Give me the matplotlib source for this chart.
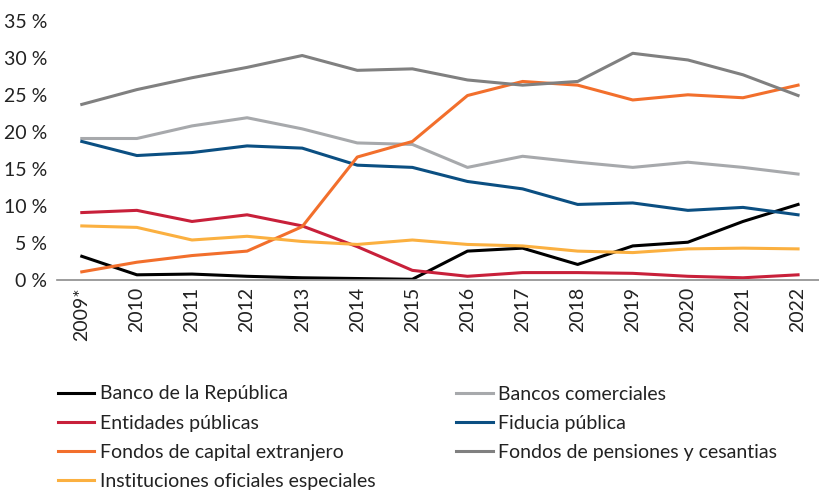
import matplotlib
matplotlib.use("Agg")
import matplotlib.pyplot as plt
from matplotlib.ticker import FuncFormatter

plt.rcParams['font.family'] = ['Lato', 'DejaVu Sans']

years = ["2009*", "2010", "2011", "2012", "2013", "2014", "2015",
         "2016", "2017", "2018", "2019", "2020", "2021", "2022"]

banco_republica = [3.2, 0.7, 0.8, 0.5, 0.3, 0.2, 0.1, 3.9, 4.3, 2.1, 4.6, 5.1, 7.9, 10.2]
bancos_comerciales = [19.1, 19.1, 20.8, 21.9, 20.4, 18.5, 18.3, 15.2, 16.7, 15.9, 15.2, 15.9, 15.2, 14.3]
entidades_publicas = [9.1, 9.4, 7.9, 8.8, 7.3, 4.5, 1.3, 0.5, 1.0, 1.0, 0.9, 0.5, 0.3, 0.7]
fiducia_publica = [18.7, 16.8, 17.2, 18.1, 17.8, 15.5, 15.2, 13.3, 12.3, 10.2, 10.4, 9.4, 9.8, 8.8]
capital_extranjero = [1.1, 2.4, 3.3, 3.9, 7.2, 16.6, 18.7, 24.9, 26.8, 26.3, 24.3, 25.0, 24.6, 26.3]
pensiones_cesantias = [23.7, 25.7, 27.3, 28.7, 30.3, 28.3, 28.5, 27.0, 26.3, 26.8, 30.6, 29.7, 27.7, 24.9]
instituciones_oficiales = [7.3, 7.1, 5.4, 5.9, 5.2, 4.8, 5.4, 4.8, 4.6, 3.9, 3.7, 4.2, 4.3, 4.2]

series = [
    ("Banco de la República", banco_republica, "#000000"),
    ("Bancos comerciales", bancos_comerciales, "#a7a9ac"),
    ("Entidades públicas", entidades_publicas, "#c8203a"),
    ("Fiducia pública", fiducia_publica, "#0b4f82"),
    ("Fondos de capital extranjero", capital_extranjero, "#f26f2c"),
    ("Fondos de pensiones y cesantias", pensiones_cesantias, "#808080"),
    ("Instituciones oficiales especiales", instituciones_oficiales, "#fbb040"),
]

fig = plt.figure(figsize=(8.19, 4.95), dpi=100)
ax = fig.add_axes([57 / 819, 1 - 280 / 495, 762 / 819, (280 - 20.7) / 495])

x = range(len(years))
for label, vals, color in series:
    ax.plot(x, vals, color=color, lw=2.2, label=label)

ax.set_xlim(-0.45, 13.38)
ax.set_ylim(0, 35)
ax.set_yticks(range(0, 36, 5))
ax.yaxis.set_major_formatter(FuncFormatter(lambda v, p: f"{int(v)} %"))
ax.set_xticks(list(x))
ax.set_xticklabels(years, rotation=90)
ax.tick_params(axis='both', length=0, labelsize=14, colors="#222222")
ax.tick_params(axis='y', pad=7)
ax.tick_params(axis='x', pad=5)

for s in ["top", "right", "left"]:
    ax.spines[s].set_visible(False)
ax.spines["bottom"].set_color("#8c8c8c")
ax.spines["bottom"].set_linewidth(1.2)

# legend is read row by row in the reference, matplotlib fills columns first
handles, labels = ax.get_legend_handles_labels()
order = [0, 2, 4, 6, 1, 3, 5]
fig.legend([handles[i] for i in order], [labels[i] for i in order],
           ncol=2, loc="upper left",
           bbox_to_anchor=(40 / 819, 1 - 368 / 495), frameon=False,
           fontsize=14, handlelength=1.9, handletextpad=0.3,
           columnspacing=4.1, labelspacing=0.62, labelcolor="#222222")

fig.savefig("out.png", dpi=100)
